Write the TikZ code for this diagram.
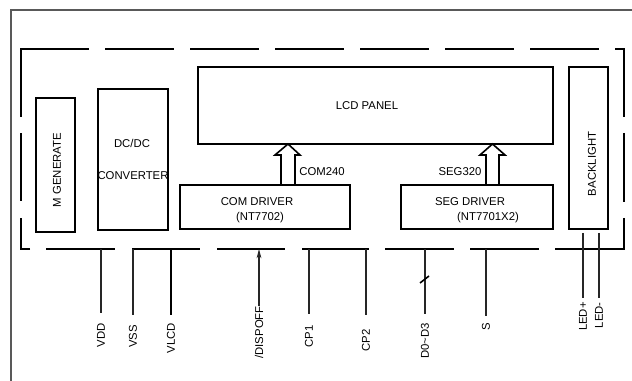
\documentclass[tikz,border=0pt]{standalone}
\usepackage{fontspec}
\setmainfont{Liberation Sans}
\usetikzlibrary{arrows.meta,fit}
\begin{document}
\begin{tikzpicture}[x=0.75pt,y=-0.75pt,
  blk/.style={draw, line width=1.5pt, inner sep=0pt},
  txt/.style={font=\fontsize{8.5}{10}\selectfont, inner sep=0pt},
  rtxt/.style={txt, rotate=90},
  frm/.style={line width=1.6pt},
  pinl/.style={line width=0.8pt, black!85},
  lab/.style={txt, rotate=90, anchor=east},
  blockarrow/.style={draw, line width=1.2pt, fill=white, line join=miter}]
\useasboundingbox (0,0) rectangle (632,381);
% outer frame
\draw[black!65, line width=1.5pt] (632,10) -- (11,10) -- (11,381);
% dashed module frame
\draw[frm] (21,117) -- (21,49) -- (89,49);
\foreach \a/\b in {105/174,190/259,275/344,360/429,445/514,530/599}
  \draw[frm] (\a,49) -- (\b,49);
\draw[frm] (615,49) -- (624,49) -- (624,117);
\draw[frm] (624,133) -- (624,202);
\draw[frm] (624,218) -- (624,249) -- (555,249);
\foreach \a/\b in {46/115,132/200,217/285,302/369,385/454,470/539}
  \draw[frm] (\a,249) -- (\b,249);
\draw[frm] (30,249) -- (21,249) -- (21,218);
\draw[frm] (21,201) -- (21,133);
% blocks
\node[blk, fit={(36,98) (75,232)}] (mgen) {};
\node[rtxt] (mgent) at (57,170) {M GENERATE};
\node[blk, fit={(98,89) (168,230)}] (dcdc) {};
\node[txt] (dcdct1) at (132,143) {DC/DC};
\node[txt] (dcdct2) at (133,176) {CONVERTER};
\node[blk, fit={(198,67) (553,144)}] (lcd) {};
\node[txt] (lcdt) at (367,106) {LCD PANEL};
\node[blk, fit={(569,67) (608,229)}] (bl) {};
\node[rtxt] (blt) at (592,164) {BACKLIGHT};
\node[blk, fit={(180,185) (350,229)}] (com) {};
\node[txt] (comt1) at (257,202) {COM DRIVER};
\node[txt] (comt2) at (260,218) {(NT7702)};
\node[blk, fit={(401,185) (553,229)}] (seg) {};
\node[txt] (segt1) at (470,202) {SEG DRIVER};
\node[txt] (segt2) at (488,218) {(NT7701X2)};
% bus arrows
\draw[blockarrow] (281,185) -- (281,155) -- (275,155) -- (288,144) -- (300,155) -- (295,155) -- (295,185) -- cycle;
\node[txt] (comlab) at (322,172) {COM240};
\draw[blockarrow] (486,185) -- (486,155) -- (480,155) -- (492.5,144) -- (505,155) -- (499,155) -- (499,185) -- cycle;
\node[txt] (seglab) at (460,172) {SEG320};
% pins
\foreach \n/\x/\t/\s/\tx in {vdd/101/323/7.5/VDD, vss/133/325/7.5/VSS, cpa/309/325/8.25/CP1, cpb/366/329/10.5/CP2, dat/425/323/6.75/D0\textasciitilde D3, s/486/323/5.25/S}{
  \coordinate (p\n) at (\x,249);
  \node[lab] (l\n) at (\x,\t) {\tx};
  \draw[pinl, shorten >=\s pt] (p\n) -- (l\n.east);
}
\coordinate (pvlcd) at (171,249);
\node[lab] (lvlcd) at (171,323) {VLCD};
\draw[line width=1.5pt, shorten >=6pt] (pvlcd) -- (lvlcd.east);
\coordinate (pdisp) at (259,249);
\node[lab] (ldisp) at (259,306) {/DISPOFF};
\draw[pinl, -{Stealth[length=7pt,width=3.6pt]}] (ldisp.east) -- (pdisp);
\draw[line width=1.2pt] (420,283) -- (429,276);
\coordinate (pledp) at (583,233);
\node[lab] (lledp) at (583,302) {LED+};
\draw[pinl, shorten >=3pt] (pledp) -- (lledp.east);
\coordinate (pledm) at (599,233);
\node[lab] (lledm) at (599,302) {LED-};
\draw[pinl, shorten >=3pt] (pledm) -- (lledm.east);
\end{tikzpicture}
\end{document}
